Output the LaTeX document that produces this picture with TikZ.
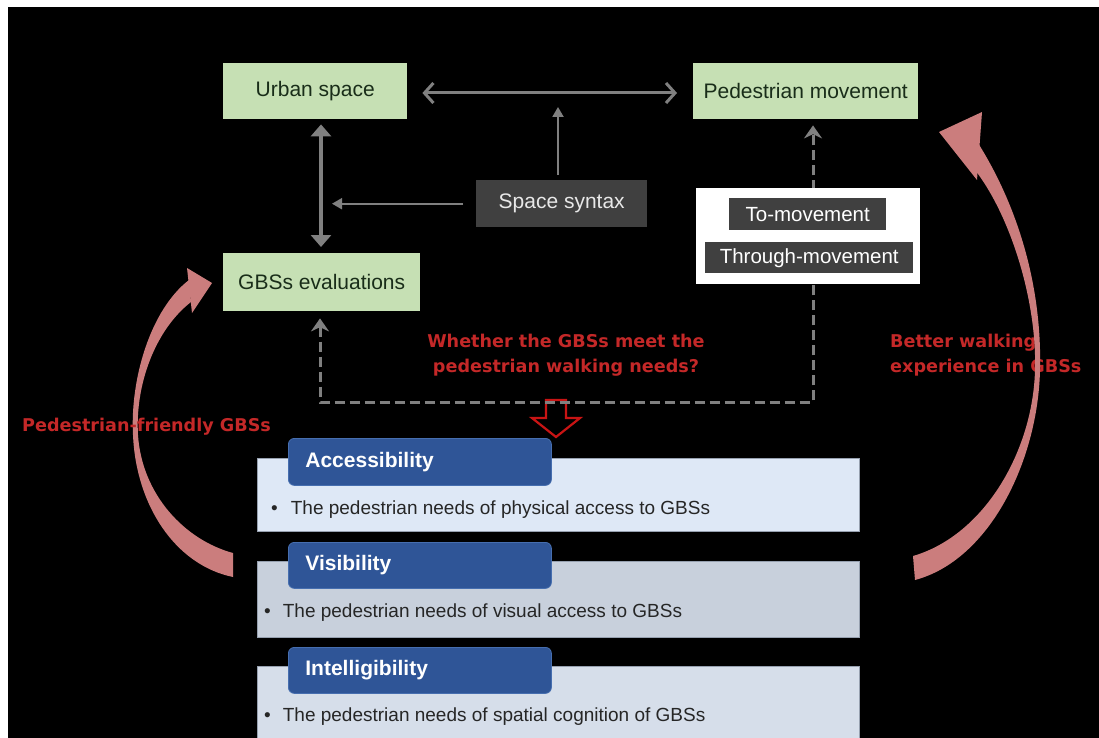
\documentclass[tikz,border=0pt]{standalone}
\usepackage{fontspec}
\setmainfont{Liberation Sans}
\newfontfamily\redfont{DejaVu Sans}
\usetikzlibrary{arrows.meta}
\definecolor{boxgreen}{RGB}{198,224,180}
\definecolor{greentext}{RGB}{25,45,25}
\definecolor{darkfill}{RGB}{64,64,64}
\definecolor{lighttext}{RGB}{232,232,232}
\definecolor{arrowgray}{RGB}{128,128,128}
\definecolor{redtext}{RGB}{196,40,40}
\definecolor{pinkarrow}{RGB}{203,125,125}
\definecolor{tabblue}{RGB}{47,85,151}
\definecolor{tabedge}{RGB}{70,110,175}
\definecolor{panelA}{RGB}{222,232,246}
\definecolor{panelB}{RGB}{200,208,220}
\definecolor{panelC}{RGB}{214,222,234}
\definecolor{paneledge}{RGB}{150,160,175}
\definecolor{hollowred}{RGB}{200,20,20}
\begin{document}
\begin{tikzpicture}[x=1pt,y=-1pt,
  greenbox/.style={fill=boxgreen, text=greentext, font=\fontsize{21}{25}\selectfont, anchor=north west, inner sep=0pt},
  darkbox/.style={fill=darkfill, text=lighttext, font=\fontsize{21}{25}\selectfont, anchor=north west, inner sep=0pt},
  redlabel/.style={text=redtext, font=\redfont\bfseries\fontsize{17.6}{25}\selectfont, inner sep=0pt},
  panel/.style={draw=paneledge, line width=0.8pt, anchor=north west, inner sep=0pt, minimum width=602pt},
  tabbox/.style={fill=tabblue, draw=tabedge, line width=0.8pt, rounded corners=6pt, anchor=north west, minimum width=263pt, text width=229pt, inner xsep=17pt, inner ysep=0pt, align=left, text=white, font=\bfseries\fontsize{21}{25}\selectfont},
  bullettext/.style={anchor=west, inner sep=0pt, text=black!85, font=\fontsize{19}{23}\selectfont},
  grayarrow/.style={draw=arrowgray, line width=3pt},
  dasharrow/.style={draw=arrowgray, line width=3pt, dash pattern=on 10pt off 5pt}
]
\useasboundingbox (0,0) rectangle (1099,738);
% background
\fill[white] (0,0) rectangle (1099,738);
\fill[black] (8,7) rectangle (1099,738);

% top nodes
\node[greenbox, minimum width=184pt, minimum height=56pt] (urban) at (223,63) {Urban space};
\node[greenbox, minimum width=225pt, minimum height=56pt] (ped) at (693,63) {Pedestrian movement};
\node[greenbox, minimum width=197pt, minimum height=58pt] (gbs) at (223,253) {GBSs evaluations};
\node[darkbox, minimum width=171pt, minimum height=47pt] (ss) at (476,180) {Space syntax};

% coordinates
\coordinate (hmid) at (558,93);
\coordinate (vmid) at (321,202);
\coordinate (dl) at (320,402);
\coordinate (dr) at (813,402);

% solid gray arrows
\draw[grayarrow, {Straight Barb[length=9pt,width=20pt,line width=3pt]}-{Straight Barb[length=9pt,width=20pt,line width=3pt]}, shorten <=15pt, shorten >=16pt] (urban.east |- hmid) -- (ped.west |- hmid);
\draw[grayarrow, line width=3.5pt, {Triangle[length=12pt,width=20pt]}-{Triangle[length=12pt,width=20pt]}, shorten <=5pt, shorten >=6pt] (urban.south -| vmid) -- (gbs.north -| vmid);
\draw[grayarrow, line width=2pt, -{Triangle[length=10pt,width=11pt]}, shorten <=5pt, shorten >=14pt] (ss.north -| hmid) -- (hmid);
\draw[grayarrow, line width=2pt, -{Triangle[length=10pt,width=11pt]}, shorten <=13pt, shorten >=11pt] (ss.west) -- (ss.west -| vmid);

% red hollow arrow
\draw[hollowred, line width=2.2pt, line join=miter] (546,400) -- (566,400) -- (566,418) -- (580,418) -- (556,437) -- (532,418) -- (546,418) -- cycle;

% dashed feedback loop
\draw[dasharrow, {Stealth[length=13pt,width=18pt]}-{Stealth[length=13pt,width=18pt]}, shorten <=7pt, shorten >=6pt] (gbs.south -| dl) -- (dl) -- (dr) -- (ped.south -| dr);

% white box with movement types
\node[fill=white, anchor=north west, minimum width=224pt, minimum height=96pt, inner sep=0pt] (wbox) at (696,188) {};
\node[darkbox, fill=darkfill, minimum width=157pt, minimum height=32pt, text=white, font=\fontsize{20.5}{24}\selectfont] (tomove) at (729,198) {To-movement};
\node[darkbox, fill=darkfill, minimum width=208pt, minimum height=31pt, text=white, font=\fontsize{20.5}{24}\selectfont] (through) at (705,242) {Through-movement};

% red labels
\node[redlabel, align=center] (whether) at (566,355) {Whether the GBSs meet the\\pedestrian walking needs?};
\node[redlabel, align=left, anchor=west] (better) at (890,355) {Better walking\\experience in GBSs};

% curved pink arrows
\fill[pinkarrow] (189,280) .. controls (150,310) and (130,380) .. (133,435) .. controls (136,505) and (175,565) .. (233,577) -- (233,553) .. controls (185,540) and (142,495) .. (138,435) .. controls (135,385) and (155,330) .. (191,302) -- cycle;
\fill[pinkarrow] (187,268) -- (212,283) -- (192,313) -- cycle;
\fill[pinkarrow] (978,143) .. controls (1020,210) and (1042,290) .. (1040,370) .. controls (1038,460) and (990,560) .. (915,580) -- (913,556) .. controls (985,535) and (1033,450) .. (1035,370) .. controls (1037,300) and (1010,215) .. (975,170) -- cycle;
\fill[pinkarrow] (939,132) -- (982,112) -- (977,180) -- cycle;

\node[redlabel, anchor=west] (friendly) at (22,427) {Pedestrian-friendly GBSs};

% bottom panels
\node[panel, fill=panelA, minimum height=73pt] (p1) at (257,458) {};
\node[panel, fill=panelB, minimum height=76pt] (p2) at (257,561) {};
\node[panel, fill=panelC, minimum height=74pt] (p3) at (257,666) {};
\node[tabbox, minimum height=47pt] (t1) at (288,438) {Accessibility};
\node[tabbox, minimum height=46pt] (t2) at (288,542) {Visibility};
\node[tabbox, minimum height=46pt] (t3) at (288,647) {Intelligibility};
\node[bullettext] (b1) at (271,510) {\textbullet\hspace{13pt}The pedestrian needs of physical access to GBSs};
\node[bullettext] (b2) at (264,613) {\textbullet\hspace{12pt}The pedestrian needs of visual access to GBSs};
\node[bullettext] (b3) at (264,717) {\textbullet\hspace{12pt}The pedestrian needs of spatial cognition of GBSs};
\end{tikzpicture}
\end{document}
